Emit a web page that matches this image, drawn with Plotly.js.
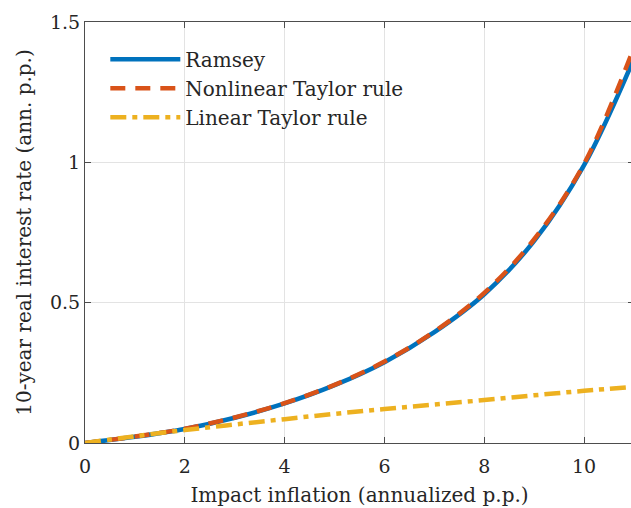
<!DOCTYPE html>
<html>
<head>
<meta charset="utf-8">
<script src="https://cdn.plot.ly/plotly-3.0.1.min.js"></script>
<style>
html,body{margin:0;padding:0;overflow:hidden;background:#fff;width:631px;height:508px;}
#chart{width:636px;height:508px;}
</style>
</head>
<body>
<div id="chart"></div>
<script>
const inflation = [0, 1, 2, 3, 4, 5, 6, 7, 8, 9, 10, 11];
const ramsey = [0, 0.022, 0.050, 0.090, 0.141, 0.206, 0.288, 0.395, 0.530, 0.720, 0.990, 1.370];
const nonlinearTaylor = [0, 0.023, 0.051, 0.091, 0.142, 0.207, 0.290, 0.397, 0.535, 0.726, 0.995, 1.410];
const linearTaylor = [0, 0.024, 0.046, 0.066, 0.085, 0.104, 0.121, 0.137, 0.153, 0.170, 0.186, 0.200];
const seriesNames = ["Ramsey", "Nonlinear Taylor rule", "Linear Taylor rule"];
const xTicks = [0, 2, 4, 6, 8, 10];
const yTicks = [0, 0.5, 1, 1.5];
const yTickLabels = ["0", "0.5", "1", "1.5"];

const font = "DejaVu Serif";
const traces = [
  {x: inflation, y: ramsey, name: seriesNames[0], mode: "lines",
   line: {color: "#0072BD", width: 4.5, shape: "spline"}},
  {x: inflation, y: nonlinearTaylor, name: seriesNames[1], mode: "lines",
   line: {color: "#D95319", width: 4.5, dash: "15px,10px", shape: "spline"}},
  {x: inflation, y: linearTaylor, name: seriesNames[2], mode: "lines",
   line: {color: "#EDB120", width: 4.5, dash: "16px,6px,5px,6px", shape: "spline"}}
];
const axisCommon = {
  showline: true, linecolor: "#4d4d4d", linewidth: 1, mirror: "ticks",
  ticks: "inside", ticklen: 6, tickcolor: "#4d4d4d",
  showgrid: true, gridcolor: "#e3e3e3", gridwidth: 1, zeroline: false,
  tickfont: {family: font, size: 19, color: "#262626"}
};
const layout = {
  width: 636, height: 508,
  margin: {l: 85, r: 2, t: 22, b: 65},
  paper_bgcolor: "#fff", plot_bgcolor: "#fff",
  font: {family: font, color: "#262626"},
  showlegend: true,
  legend: {x: 0.037, y: 0.958, xanchor: "left", yanchor: "top", itemwidth: 70,
           bgcolor: "rgba(255,255,255,0)", borderwidth: 0,
           font: {family: font, size: 20, color: "#262626"}, tracegroupgap: 0},
  xaxis: Object.assign({}, axisCommon, {range: [0, 11], tickvals: xTicks, ticklabelstandoff: 6,
    title: {text: "Impact inflation (annualized p.p.)", font: {family: font, size: 20, color: "#262626"}, standoff: 12}}),
  yaxis: Object.assign({}, axisCommon, {range: [0, 1.5], tickvals: yTicks, ticktext: yTickLabels,
    title: {text: "10-year real interest rate (ann. p.p.)", font: {family: font, size: 20, color: "#262626"}, standoff: 12}})
};
Plotly.newPlot("chart", traces, layout, {displayModeBar: false, staticPlot: true});
</script>
</body>
</html>
